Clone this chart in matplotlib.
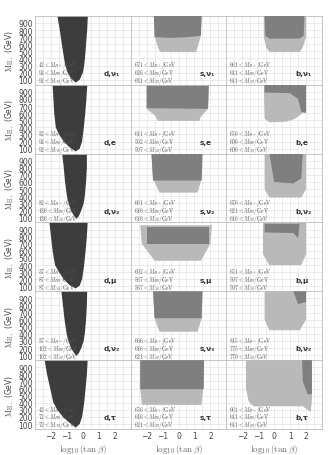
import numpy as np
import matplotlib
matplotlib.use('Agg')
import matplotlib.pyplot as plt
from matplotlib.patches import Polygon

plt.rcParams['mathtext.fontset'] = 'cm'

# channel names (rows) and quark labels (columns)
quarks = ['d', 's', 'b']
leptons = ['ν₁', 'e', 'ν₂', 'μ', 'ν₃', 'τ']

# lower mass bounds printed in each panel [row][col]
mh_plus = [[42, 671, 661], [32, 611, 656], [82, 661, 676],
           [37, 602, 651], [37, 666, 815], [42, 656, 661]]
mh_zero = [[92, 626, 611], [92, 592, 606], [136, 616, 621],
           [87, 567, 597], [102, 616, 775], [72, 616, 611]]
ma_zero = [[92, 631, 611], [92, 597, 606], [136, 616, 616],
           [87, 567, 597], [102, 621, 770], [72, 621, 611]]

# allowed regions, (log10 tan beta, M_H+) vertices
d_nu1 = [(-1.6, 1000), (-1.45, 800), (-1.32, 600), (-1.18, 400), (-1.1, 300), (-0.95, 200),
         (-0.75, 120), (-0.45, 60), (-0.2, 100), (0.0, 200), (0.08, 300), (0.13, 400),
         (0.2, 600), (0.27, 800), (0.31, 1000)]
d_e = [(-1.9, 1000), (-1.85, 800), (-1.8, 600), (-1.7, 400), (-1.5, 300), (-1.2, 200),
       (-0.85, 120), (-0.45, 60), (-0.2, 100), (-0.05, 200), (0.06, 400), (0.15, 600),
       (0.22, 800), (0.28, 1000)]
d_nu2 = [(-1.3, 1000), (-1.2, 800), (-1.12, 600), (-1.0, 400), (-0.9, 300), (-0.75, 200),
         (-0.55, 120), (-0.4, 80), (-0.25, 120), (-0.1, 200), (0.05, 300), (0.12, 400),
         (0.2, 600), (0.25, 800), (0.25, 1000)]
d_mu = [(-2.1, 1000), (-2.0, 800), (-1.9, 600), (-1.75, 400), (-1.5, 300), (-1.2, 200),
        (-0.85, 120), (-0.45, 70), (-0.2, 110), (-0.05, 200), (0.08, 400), (0.17, 600),
        (0.25, 800), (0.3, 1000)]
d_nu3 = [(-1.35, 1000), (-1.25, 800), (-1.15, 600), (-1.02, 400), (-0.9, 300), (-0.75, 200),
         (-0.55, 130), (-0.4, 90), (-0.25, 130), (-0.1, 200), (0.05, 300), (0.12, 400),
         (0.2, 600), (0.25, 800), (0.27, 1000)]
d_tau = [(-2.4, 1000), (-2.25, 800), (-2.05, 600), (-1.85, 400), (-1.6, 300), (-1.25, 200),
         (-0.85, 120), (-0.45, 50), (-0.2, 100), (-0.05, 200), (0.08, 400), (0.17, 600),
         (0.25, 800), (0.3, 1000)]

s_nu1_lo = [(-1.55, 1000), (1.45, 1000), (1.4, 720), (1.2, 560), (1.1, 490),
            (-1.15, 490), (-1.3, 560), (-1.5, 720)]
s_nu1_hi = [(-1.55, 1000), (1.45, 1000), (1.4, 720), (0.5, 700), (-0.5, 690), (-1.5, 700)]
s_e_lo = [(-2.0, 985), (1.9, 985), (1.85, 660), (1.4, 550), (1.3, 490),
          (-1.3, 490), (-1.45, 560), (-2.0, 660)]
s_e_hi = [(-2.0, 985), (1.9, 985), (1.85, 660), (-2.0, 670)]
s_nu2_lo = [(-1.7, 1000), (1.5, 1000), (1.45, 650), (1.2, 450), (-1.2, 450), (-1.6, 650)]
s_nu2_hi = [(-1.7, 1000), (1.5, 1000), (1.45, 620), (-1.6, 620)]
s_mu_lo = [(-2.4, 960), (2.1, 960), (2.0, 700), (1.4, 460), (-1.5, 460), (-2.3, 700)]
s_mu_hi = [(-2.0, 930), (1.9, 930), (1.9, 700), (-2.0, 700)]
s_nu3_lo = [(-1.6, 1000), (1.5, 1000), (1.45, 620), (1.2, 430), (-1.2, 430), (-1.5, 620)]
s_nu3_hi = [(-1.6, 1000), (1.5, 1000), (1.45, 620), (-1.5, 620)]
s_tau_lo = [(-2.4, 1000), (1.6, 1000), (1.55, 600), (1.44, 370), (-2.3, 370), (-2.4, 600)]
s_tau_hi = [(-2.4, 1000), (1.6, 1000), (1.58, 590), (-2.4, 590)]

b_nu1_lo = [(-0.65, 1000), (2.0, 1000), (2.0, 700), (1.8, 560), (1.6, 490),
            (-0.3, 490), (-0.5, 560), (-0.65, 700)]
b_nu1_hi = [(-0.6, 1000), (1.9, 1000), (1.85, 720), (1.6, 680), (-0.3, 680), (-0.55, 720)]
b_e_lo = [(-0.65, 1000), (2.0, 1000), (2.0, 650), (1.8, 600), (1.3, 520), (0.8, 480),
          (-0.3, 470), (-0.6, 520)]
b_e_hi = [(-0.6, 1000), (2.0, 1000), (2.0, 600), (1.7, 620), (1.5, 800), (1.0, 880), (-0.6, 890)]
b_nu2_lo = [(-0.6, 1000), (2.0, 1000), (2.0, 500), (1.7, 380), (-0.3, 380), (-0.6, 500)]
b_nu2_hi = [(-0.3, 1000), (1.8, 1000), (1.7, 650), (1.2, 580), (0.0, 600)]
b_mu_lo = [(-0.7, 1000), (2.0, 1000), (2.0, 550), (1.7, 400), (-0.3, 400), (-0.7, 550)]
b_mu_hi = [(-0.6, 980), (1.6, 980), (1.5, 780), (1.2, 850), (-0.6, 860)]
b_nu3_lo = [(-0.6, 1000), (2.0, 1000), (2.0, 600), (1.6, 450), (-0.3, 450), (-0.6, 600)]
b_nu3_hi = [(1.2, 1000), (2.0, 1000), (2.0, 850), (1.5, 820)]
b_tau_lo = [(-1.77, 1000), (2.37, 1000), (2.37, 450), (2.3, 270), (2.1, 300), (1.8, 350),
            (-1.3, 350), (-1.6, 420), (-1.77, 600)]
b_tau_hi = [(1.75, 1000), (2.37, 1000), (2.37, 520), (2.1, 520), (1.8, 700)]

d_regions = [d_nu1, d_e, d_nu2, d_mu, d_nu3, d_tau]
s_regions = [(s_nu1_lo, s_nu1_hi), (s_e_lo, s_e_hi), (s_nu2_lo, s_nu2_hi),
             (s_mu_lo, s_mu_hi), (s_nu3_lo, s_nu3_hi), (s_tau_lo, s_tau_hi)]
b_regions = [(b_nu1_lo, b_nu1_hi), (b_e_lo, b_e_hi), (b_nu2_lo, b_nu2_hi),
             (b_mu_lo, b_mu_hi), (b_nu3_lo, b_nu3_hi), (b_tau_lo, b_tau_hi)]

x_ticks = [-2, -1, 0, 1, 2]
y_ticks = [100, 200, 300, 400, 500, 600, 700, 800, 900]

DARK = '#3d3d3d'
MID = '#7f7f7f'
LIGHT = '#b9b9b9'
GRID = '#e3e3e3'
TXT = '#555555'

fig, axes = plt.subplots(6, 3, figsize=(3.34, 4.56), dpi=100, sharex=True, sharey=True)
fig.subplots_adjust(left=0.105, right=0.964, top=0.963, bottom=0.057, wspace=0, hspace=0)

for r in range(6):
    for c in range(3):
        ax = axes[r, c]
        ax.set_xlim(-3, 3)
        ax.set_ylim(30, 1000)
        ax.set_xticks(x_ticks)
        ax.set_xticks(np.arange(-2.5, 3, 1), minor=True)
        ax.set_yticks(y_ticks)
        ax.grid(True, which='both', color=GRID, lw=0.5)
        ax.set_axisbelow(True)
        for sp in ax.spines.values():
            sp.set_color('#bbbbbb')
            sp.set_linewidth(0.6)
        ax.tick_params(which='both', length=0, labelsize=5.5, labelcolor='#444444', pad=1.5)

        if c == 0:
            ax.add_patch(Polygon(d_regions[r], closed=True, color=DARK, lw=0, zorder=2))
        else:
            lo, hi = (s_regions if c == 1 else b_regions)[r]
            ax.add_patch(Polygon(lo, closed=True, color=LIGHT, lw=0, zorder=2))
            ax.add_patch(Polygon(hi, closed=True, color=MID, lw=0, zorder=3))

        lines = [rf'${mh_plus[r][c]} < M_{{H+}}/\mathrm{{GeV}}$',
                 rf'${mh_zero[r][c]} < M_{{H0}}/\mathrm{{GeV}}$',
                 rf'${ma_zero[r][c]} < M_{{A0}}/\mathrm{{GeV}}$']
        for i, s in enumerate(lines):
            ax.text(0.03, 0.29 - i * 0.115, s, transform=ax.transAxes, fontsize=3.9,
                    color=TXT, va='center', ha='left', zorder=5)
        ax.text(0.72, 0.17, f'{quarks[c]},{leptons[r]}', transform=ax.transAxes,
                fontsize=5.2, fontweight='bold', color='#333333', va='center', zorder=5)

    axes[r, 0].set_ylabel(r'$\mathrm{M_{H_+}}$ (GeV)', fontsize=5.5, color='#444444', labelpad=2)

for c in range(3):
    axes[5, c].set_xlabel(r'$\log_{10}(\tan\beta)$', fontsize=6.5, color='#666666', labelpad=2)

fig.savefig('out.png', dpi=100)
